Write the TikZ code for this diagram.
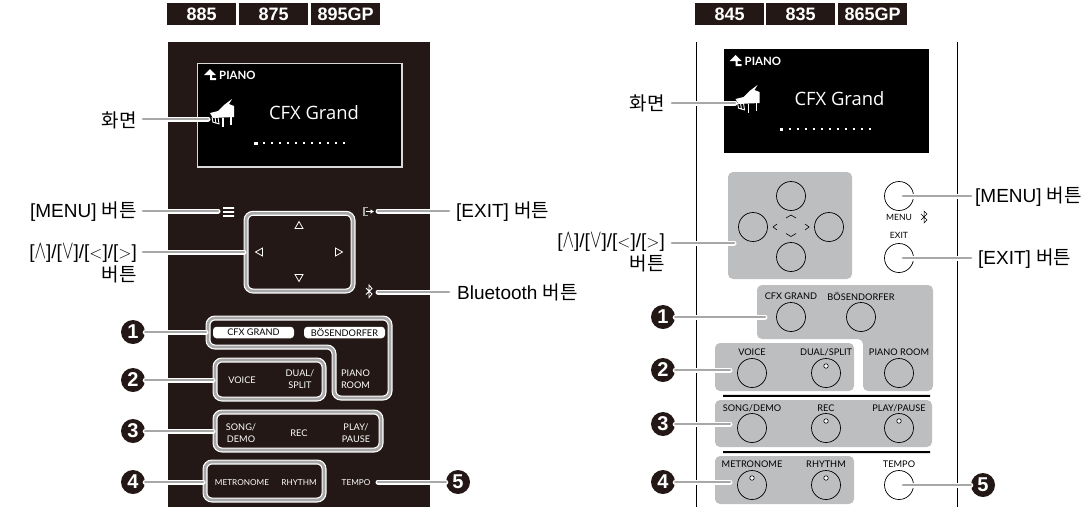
\documentclass[tikz,border=0pt]{standalone}
\usepackage{fontspec}
\usetikzlibrary{arrows.meta}
\setmainfont{Liberation Sans}
\newfontfamily\cjkf{Noto Sans CJK KR}
\newfontfamily\panelf{Lato}
\newfontfamily\screenf{Open Sans}
\definecolor{panel}{HTML}{231815}
\definecolor{boxgray}{HTML}{BCBEC0}
\definecolor{linegray}{HTML}{A8A8A8}
\newcommand{\arrowtext}{[\scalebox{1}[1.5]{$\wedge$}]/[\scalebox{1}[1.5]{$\vee$}]/[$<$]/[$>$]}
\tikzset{
  x=1pt,y=-1pt,
  tag/.style={fill=panel,text=white,font=\fontsize{18}{18}\selectfont\bfseries,minimum width=69pt,minimum height=22pt,inner sep=0pt,anchor=north west},
  conn/.style={draw=white,double=linegray,line width=1.2pt,double distance=2.6pt,line cap=round},
  frameline/.style={conn,rounded corners=7pt},
  lbl/.style={font=\fontsize{19}{23}\selectfont,inner sep=0pt,text=black},
  lblr/.style={lbl,anchor=east,align=right},
  lbll/.style={lbl,anchor=west},
  numc/.style={circle,fill=panel,text=white,minimum size=24pt,inner sep=0pt,font=\fontsize{20}{20}\selectfont\bfseries},
  wbtn/.style={font=\panelf\fontsize{9.2}{11.5}\selectfont,text=white,inner sep=0pt,align=center},
  wsmall/.style={wbtn,font=\panelf\fontsize{8.2}{10}\selectfont},
  kbtn/.style={font=\panelf\fontsize{9.2}{10}\selectfont,text=black,inner sep=0pt,align=center},
  pill/.style={fill=white,rounded corners=3.5pt,text=black,font=\panelf\fontsize{9.2}{10}\selectfont,inner sep=0pt,minimum height=11.5pt,minimum width=81pt},
  keyc/.style={circle,draw=black,line width=0.7pt,minimum size=29pt,inner sep=0pt},
  led/.style={circle,draw=black,fill=white,line width=0.6pt,minimum size=4.5pt,inner sep=0pt},
  gbox/.style={fill=boxgray,rounded corners=5pt},
  tri/.style={draw=white,line width=0.8pt,line join=miter},
}
\newcommand{\screenstuff}{%
  % up arrow icon
  \fill[white] (204,75) -- (210,69) -- (216,75) -- (212,75) -- (212,78) -- (216,78) -- (216,80) -- (210,80) -- (210,75) -- cycle;
  \node[anchor=west,inner sep=0pt,text=white,font=\panelf\bfseries\fontsize{11.4}{12}\selectfont] at (219,75.5) {PIANO};
  \node[text=white,inner sep=0pt,font=\screenf\fontsize{18.4}{19}\selectfont] at (314,113) {CFX Grand};
  % piano icon
  \fill[white] (210,113) -- (218,111) -- (224,105) -- (232,99) -- (229,104) -- (234,106) -- (234,117) -- (213,118) -- cycle;
  \draw[white,line width=1.6pt] (231,116) -- (231,125) (223,118) -- (223,127);
  \draw[white,line width=0.9pt] (212,117) -- (213,122) (215,117) -- (216,123.5) (218,117) -- (219,124) (212.5,122)--(219.5,124);
  \fill[white] (254,141.5) rectangle (257.5,145);
  \foreach \i in {1,...,11} \fill[white] (255.2+\i*8,142.3) rectangle (257+\i*8,144.1);
}
\begin{document}
\begin{tikzpicture}
\useasboundingbox (0,0) rectangle (1089,507);
% ---- headers
\node[tag] (t885) at (167,3) {885};
\node[tag] (t875) at (239,3) {875};
\node[tag] (t895) at (311,3) {895GP};
\node[tag] (t845) at (695,3) {845};
\node[tag] (t835) at (766,3) {835};
\node[tag] (t865) at (838,3) {865GP};
% ---- left panel
\fill[panel] (167.5,42) rectangle (429.5,507);
\fill[black] (197.5,63.5) rectangle (402,167);
\draw[white!85!black,line width=1.2pt] (197.5,63.5) rectangle (402,167);
\screenstuff
% icons left
\fill[white] (223,207) rectangle (234,208.8) (223,211) rectangle (234,212.8) (223,215) rectangle (234,216.8);
\draw[linegray,line width=1.1pt] (368,207.5) -- (364,207.5) -- (364,215.5) -- (368,215.5);
\draw[white,line width=0.9pt,-{Latex[length=3.5pt,width=5pt]}] (366,211.5) -- (374,211.5);
\draw[white,line width=0.8pt] (366,288) -- (372,294) -- (369,297.5) -- (369,285) -- (372,288.5) -- (366,294.5);
\draw[tri] (299,221.5) -- (303,228.5) -- (295,228.5) -- cycle;
\draw[tri] (255.5,252) -- (262.5,248) -- (262.5,256) -- cycle;
\draw[tri] (342.5,252) -- (335.5,248) -- (335.5,256) -- cycle;
\draw[tri] (299,281.5) -- (303,274.5) -- (295,274.5) -- cycle;
% button legends left
\node[pill] (pCfx) at (253.5,332.5) {CFX GRAND};
\node[pill] (pBos) at (344.5,332.5) {BÖSENDORFER};
\node[wbtn] (bPiano) at (355.5,379) {PIANO\\ROOM};
\node[wbtn] (bVoice) at (242,380) {VOICE};
\node[wbtn] (bDual) at (300,379) {DUAL/\\SPLIT};
\node[wbtn] (bSong) at (241,433) {SONG/\\DEMO};
\node[wbtn] (bRec) at (299,433) {REC};
\node[wbtn] (bPlay) at (356,433) {PLAY/\\PAUSE};
\node[wsmall] (bMet) at (242,483) {METRONOME};
\node[wsmall] (bRhy) at (299,483) {RHYTHM};
\node[wsmall] (bTmp) at (356,483) {TEMPO};
% frames left
\draw[frameline] (246,213.3) rectangle (353,291);
\draw[frameline] (208,318) -- (390,318) -- (390,398) -- (334,398) -- (334,347) -- (208,347) -- cycle;
\draw[frameline] (215,360) rectangle (324,399);
\draw[frameline] (215,412) rectangle (381,450);
\draw[frameline] (205,462) rectangle (324,500);
% labels left
\node[lblr,font=\cjkf\fontsize{19}{21}\selectfont] (lScr) at (137,120) {화면};
\node[lblr] (lMenu) at (137,212) {[MENU] {\cjkf 버튼}};
\node[lblr] (lDpad) at (137,263.5) {\arrowtext\\{\cjkf 버튼}};
\node[lbll] (lExit) at (456,212) {[EXIT] {\cjkf 버튼}};
\node[lbll] (lBt) at (457,292) {Bluetooth {\cjkf 버튼}};
\coordinate (aScr) at (143,119);
\coordinate (aMenu) at (143,211);
\coordinate (aDpad) at (143,252);
\coordinate (aExit) at (449,211);
\coordinate (aBt) at (449,292);
\coordinate (eScr) at (208,119);
\coordinate (eMenu) at (218,211);
\coordinate (eDpad) at (244,252);
\coordinate (eExit) at (378,211);
\coordinate (eBt) at (378,292);
\draw[conn] (aScr) -- (eScr);
\draw[conn] (aMenu) -- (eMenu);
\draw[conn] (aDpad) -- (eDpad);
\draw[conn] (aExit) -- (eExit);
\draw[conn] (aBt) -- (eBt);
\node[numc] (n1) at (133,332) {1};
\node[numc] (n2) at (133,380) {2};
\node[numc] (n3) at (133,431) {3};
\node[numc] (n4) at (133,482) {4};
\node[numc] (n5) at (458,482) {5};
\coordinate (e1) at (206,332);
\coordinate (e2) at (213,380);
\coordinate (e3) at (213,431);
\coordinate (e4) at (203,482);
\coordinate (e5) at (378,482);
\draw[conn] (n1) -- (e1);
\draw[conn] (n2) -- (e2);
\draw[conn] (n3) -- (e3);
\draw[conn] (n4) -- (e4);
\draw[conn] (n5) -- (e5);
% ---- right panel
\draw[black,line width=0.8pt] (696,42) -- (696,507) (957,42) -- (957,507);
\fill[black] (724,49) rectangle (929,153);
\begin{scope}[shift={(525.5,-14)}]
\screenstuff
\end{scope}
% dpad
\fill[gbox] (728,172) rectangle (852,279);
\node[keyc] (kUp) at (791,196) {};
\node[keyc] (kLeft) at (753,227) {};
\node[keyc] (kRight) at (829,227) {};
\node[keyc] (kDown) at (791,257) {};
\draw[black,line width=0.6pt] (786,218) -- (791,215) -- (796,218) (786,233.5) -- (791,236.5) -- (796,233.5) (777,224) -- (773,227) -- (777,230) (805,224) -- (809,227) -- (805,230);
\node[keyc] (kMenu) at (899,196) {};
\node[kbtn,font=\panelf\fontsize{8.6}{9}\selectfont] (tMenu) at (899,217) {MENU};
\draw[black,line width=0.5pt] (921,214) -- (927,220) -- (924,223) -- (924,211) -- (927,214) -- (921,220);
\node[kbtn,font=\panelf\fontsize{8.6}{9}\selectfont] (tExit) at (899,235) {EXIT};
\node[keyc] (kExit) at (899,258) {};
% group boxes
\fill[gbox] (757,285) -- (933,285) -- (933,391) -- (863,391) -- (863,339) -- (757,339) -- cycle;
\fill[gbox] (715,343) rectangle (854,391);
\fill[gbox] (715,400) rectangle (932,447);
\fill[gbox] (715,456) rectangle (854,504);
\fill[black] (723,394.8) rectangle (930,396.8) (723,451) rectangle (930,453);
\node[kbtn] (tCfx) at (791,296) {CFX GRAND};
\node[kbtn] (tBos) at (861,296) {BÖSENDORFER};
\node[kbtn] (tPiano) at (899,352) {PIANO ROOM};
\node[kbtn] (tVoice) at (752,352) {VOICE};
\node[kbtn] (tDual) at (826,352) {DUAL/SPLIT};
\node[kbtn] (tSong) at (752,408) {SONG/DEMO};
\node[kbtn] (tRec) at (826,408) {REC};
\node[kbtn] (tPlay) at (899,408) {PLAY/PAUSE};
\node[kbtn] (tMet) at (752,464) {METRONOME};
\node[kbtn] (tRhy) at (826,464) {RHYTHM};
\node[kbtn] (tTmp) at (899,464) {TEMPO};
\node[keyc] (kCfx) at (791,317) {};
\node[keyc] (kBos) at (861,317) {};
\node[keyc] (kPiano) at (899,373) {};
\node[keyc] (kVoice) at (752,373) {};
\node[keyc] (kDual) at (826,373) {};
\node[led] (lDual) at (826,366) {};
\node[keyc] (kSong) at (752,428) {};
\node[keyc] (kRec) at (826,428) {};
\node[led] (lRec) at (826,421) {};
\node[keyc] (kPlay) at (899,428) {};
\node[led] (lPlay) at (899,421) {};
\node[keyc] (kMet) at (752,485) {};
\node[led] (lMet) at (752,478) {};
\node[keyc] (kRhy) at (826,485) {};
\node[led] (lRhy) at (826,478) {};
\node[keyc] (kTmp) at (899,485) {};
% labels right
\node[lblr,font=\cjkf\fontsize{19}{21}\selectfont] (rScr) at (665,103) {화면};
\node[lblr] (rDpad) at (665,252.5) {\arrowtext\\{\cjkf 버튼}};
\node[lbll] (rMenu) at (975,197) {[MENU] {\cjkf 버튼}};
\node[lbll] (rExit) at (978,259) {[EXIT] {\cjkf 버튼}};
\coordinate (bScr) at (672,103);
\coordinate (bDpad) at (672,243);
\coordinate (bMenu) at (971,196);
\coordinate (bExit) at (971,258);
\coordinate (fScr) at (735,103);
\coordinate (fDpad) at (734,243);
\coordinate (fMenu) at (903,196);
\coordinate (fExit) at (903,258);
\draw[conn] (bScr) -- (fScr);
\draw[conn] (bDpad) -- (fDpad);
\draw[conn] (bMenu) -- (fMenu);
\draw[conn] (bExit) -- (fExit);
\node[numc] (m1) at (663,317) {1};
\node[numc] (m2) at (663,370) {2};
\node[numc] (m3) at (663,424) {3};
\node[numc] (m4) at (663,482) {4};
\node[numc] (m5) at (983,485) {5};
\coordinate (g1) at (765,317);
\coordinate (g2) at (730,370);
\coordinate (g3) at (730,424);
\coordinate (g4) at (730,482);
\coordinate (g5) at (903,485);
\draw[conn] (m1) -- (g1);
\draw[conn] (m2) -- (g2);
\draw[conn] (m3) -- (g3);
\draw[conn] (m4) -- (g4);
\draw[conn] (m5) -- (g5);
\end{tikzpicture}
\end{document}
